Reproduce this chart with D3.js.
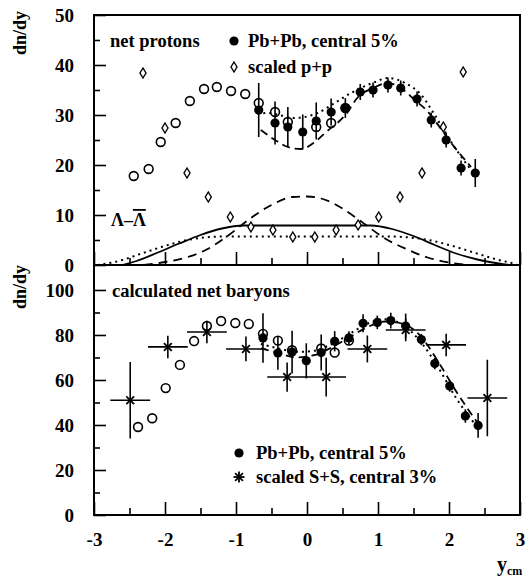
<!DOCTYPE html>
<html>
<head>
<meta charset="utf-8">
<script src="https://cdn.jsdelivr.net/npm/d3@7"></script>
<style>
body{margin:0;background:#fff;}
#canvas{width:530px;height:577px;}
text{font-family:"Liberation Serif","Times New Roman",serif;font-weight:bold;fill:#000;}
</style>
</head>
<body>
<div id="canvas" class="canvas"></div>
<script>
//Data
//top panel: net protons
var protonRap = [-0.68,-0.45,-0.27,-0.06,0.13,0.34,0.54,0.75,0.93,1.14,1.32,1.55,1.75,1.96,2.17,2.37];
var protonPbPb = [31,28.4,27.6,26.6,28.8,30.6,31.4,34.6,35,36,35.4,33.2,29,25,19.4,18.4];
var protonErr = [5.4,4.3,4,3.5,3.7,2.7,2,1.6,1.5,1.5,1.5,1.5,1.5,1.5,1.5,2.8];
var protonOpenRap = [-2.44,-2.23,-2.06,-1.85,-1.65,-1.45,-1.27,-1.07,-0.87,-0.68,-0.45,-0.27,0.13,0.34,0.54];
var protonOpen = [17.8,19.2,24.6,28.4,32.8,35.2,35.6,34.8,34.2,32.4,30.6,28.6,27.6,28.4,31.4];
var ppRap = [-2.31,-2.0,-1.69,-1.39,-1.08,-0.79,-0.48,-0.2,0.11,0.41,0.72,1.01,1.31,1.62,1.92,2.2];
var ppScaled = [38.4,27.4,18.4,13.6,9.6,7.6,7,5.6,5.6,7,8,9.6,13.6,18.4,27.6,38.6];
var protonDashed = [[-0.65,27],[-0.45,25],[-0.27,23.6],[-0.08,23.2],[0.11,24.6],[0.27,26.6],[0.54,30],[0.72,33.6],[0.93,35.4],[1.14,36.4],[1.3,35.6],[1.52,33],[1.68,31],[2.03,24.4],[2.31,19.6]];
var protonDotted = [[-0.7,30.2],[-0.55,30.4],[-0.17,29.4],[0.15,30.4],[0.39,32.4],[0.62,34.4],[0.96,36.6],[1.14,37.4],[1.38,36.4],[1.61,34],[1.8,30],[2.03,24.6],[2.31,19]];
var lambdaSolid = [[-2.6,0],[-2.4,0.8],[-2.1,2.5],[-1.8,4.3],[-1.5,6],[-1.2,7.3],[-0.9,7.9],[0.9,7.9],[1.2,7.2],[1.5,5.8],[1.8,4],[2.1,2.3],[2.4,1.1],[2.7,0.3],[2.85,0]];
var lambdaDashed = [[-2.3,0],[-2.0,0.6],[-1.7,1.5],[-1.4,3.2],[-1.1,6],[-0.8,9.3],[-0.5,12],[-0.2,13.6],[0,13.7],[0.2,13.3],[0.5,11.3],[0.8,8.3],[1.1,5.3],[1.4,3.2],[1.7,1.5],[2.0,0.5],[2.3,0]];
var lambdaDotted = [[-2.95,0],[-2.65,0.8],[-2.35,2.2],[-2.05,3.6],[-1.75,4.8],[-1.45,5.5],[-1.15,5.7],[1.15,5.7],[1.45,5.5],[1.75,4.9],[2.05,3.8],[2.35,2.5],[2.65,1.2],[2.95,0.2]];

//bottom panel: net baryons
var baryonRap = [-0.62,-0.41,-0.21,-0.01,0.2,0.39,0.59,0.79,0.99,1.18,1.39,1.61,1.8,2.01,2.23,2.41];
var baryonPbPb = [78.7,72,72.4,68.5,72.2,77.2,78.7,85.2,85.6,86.4,84,78,67.3,57.3,44,39.8];
var baryonErr = [11,7.5,9.5,7.8,8,4.5,3,4,3,3.5,5.5,2.5,2.5,2.5,3,5.5];
var baryonOpenRap = [-2.38,-2.18,-1.99,-1.79,-1.59,-1.41,-1.21,-1.01,-0.82,-0.62,-0.41,-0.21,0.2,0.39,0.59];
var baryonOpen = [39.1,43,56.4,66.7,77.3,84,86.2,85.3,84.9,80.5,77.5,73.2,74,72.2,77.5];
var ssRap = [-2.49,-1.96,-1.41,-0.86,-0.28,0.27,0.85,1.39,1.96,2.54];
var ssScaled = [51,74.7,81.3,73.8,61.3,61.3,73.8,82.2,75.6,52];
var ssErr = [17,5,5,5.5,6.5,8.6,6,5,5,17];
var ssBinHalf = 0.28;
var baryonDashed = [[-0.65,74],[-0.4,72],[-0.15,70],[0.1,71],[0.35,74.5],[0.6,79],[0.85,83.5],[1.1,86],[1.35,85],[1.6,79.5],[1.85,68],[2.1,55],[2.4,41]];
var baryonDotted = [[-0.65,76],[-0.4,74],[-0.15,72.5],[0.1,73],[0.35,76],[0.6,80.5],[0.85,85],[1.1,87],[1.35,84.5],[1.6,77],[1.85,65.5],[2.1,52],[2.4,39]];

//tick values
var xMajor = [-3,-2,-1,0,1,2,3], xMinor = [-2.5,-1.5,-0.5,0.5,1.5,2.5];
var topMajor = [0,10,20,30,40,50], topMinor = [5,15,25,35,45];
var botMajor = [0,20,40,60,80,100], botMinor = [10,30,50,70,90];

var outerWidth = 530, outerHeight = 577;
var left = 94, right = 520, top0 = 15, mid = 265, bottom = 515;

var svg = d3.select('.canvas')
    .append('svg')
    .attr('width',outerWidth)
    .attr('height',outerHeight);

var scaleX = d3.scaleLinear().domain([-3,3]).range([left,right]);
var scaleTop = d3.scaleLinear().domain([0,50]).range([mid,top0]);
var scaleBot = d3.scaleLinear().domain([0,111.1]).range([bottom,mid]);

function zip(xs,ys){ return xs.map(function(x,i){return [x,ys[i]];}); }

//axes, ticks pointing inside
function drawAxis(axis,tx,ty,size,labels){
    var g = svg.append('g')
        .attr('transform','translate('+tx+','+ty+')')
        .call(axis.tickSize(size).tickPadding(labels ? 20 : 0));
    g.select('.domain').remove();
    g.selectAll('line').attr('stroke','#000').attr('stroke-width',1.6);
    g.selectAll('text')
        .style('font-family','"Liberation Serif",serif')
        .style('font-weight','bold')
        .style('font-size','19px');
    if(!labels) g.selectAll('text').remove();
    return g;
}
drawAxis(d3.axisLeft(scaleTop).tickValues(topMajor),left,0,-12,true);
drawAxis(d3.axisLeft(scaleTop).tickValues(topMinor),left,0,-6,false);
drawAxis(d3.axisLeft(scaleBot).tickValues(botMajor),left,0,-12,true);
drawAxis(d3.axisLeft(scaleBot).tickValues(botMinor),left,0,-6,false);
drawAxis(d3.axisBottom(scaleX).tickValues(xMajor),0,mid,-13,false);
drawAxis(d3.axisBottom(scaleX).tickValues(xMinor),0,mid,-7,false);
var xg = drawAxis(d3.axisBottom(scaleX).tickValues(xMajor).tickFormat(d3.format('d')),0,bottom,-13,true);
xg.selectAll('text').attr('y',18).text(function(d){return d<0 ? '-'+(-d) : d;});
drawAxis(d3.axisBottom(scaleX).tickValues(xMinor),0,bottom,-7,false);

//frames
svg.append('rect').attr('x',left).attr('y',top0).attr('width',right-left).attr('height',mid-top0)
    .attr('fill','none').attr('stroke','#000').attr('stroke-width',2);
svg.append('rect').attr('x',left).attr('y',mid).attr('width',right-left).attr('height',bottom-mid)
    .attr('fill','none').attr('stroke','#000').attr('stroke-width',2);

//curves
function curve(data,scaleY,dash,width){
    var line = d3.line()
        .x(function(d){return scaleX(d[0]);})
        .y(function(d){return scaleY(d[1]);})
        .curve(d3.curveMonotoneX);
    svg.append('path').datum(data)
        .attr('d',line)
        .attr('fill','none')
        .attr('stroke','#000')
        .attr('stroke-width',width)
        .attr('stroke-dasharray',dash);
}
curve(lambdaSolid,scaleTop,null,1.8);
curve(lambdaDashed,scaleTop,'9,6',1.8);
curve(lambdaDotted,scaleTop,'2,4',2);
curve(protonDashed,scaleTop,'8,5',1.8);
curve(protonDotted,scaleTop,'2,4',2);
curve(baryonDashed,scaleBot,'8,5',1.8);
curve(baryonDotted,scaleBot,'2,4',2);

//error bars
function errBars(rap,val,err,scaleY){
    svg.append('g').selectAll('line')
        .data(zip(rap,val).map(function(d,i){return [d[0],d[1],err[i]];}))
        .enter().append('line')
        .attr('x1',function(d){return scaleX(d[0]);})
        .attr('x2',function(d){return scaleX(d[0]);})
        .attr('y1',function(d){return scaleY(d[1]-d[2]);})
        .attr('y2',function(d){return scaleY(d[1]+d[2]);})
        .attr('stroke','#000').attr('stroke-width',1.6);
}
errBars(protonRap,protonPbPb,protonErr,scaleTop);
errBars(baryonRap,baryonPbPb,baryonErr,scaleBot);
errBars(ssRap,ssScaled,ssErr,scaleBot);

//S+S horizontal bin bars
svg.append('g').selectAll('line')
    .data(zip(ssRap,ssScaled))
    .enter().append('line')
    .attr('x1',function(d){return scaleX(d[0]-ssBinHalf);})
    .attr('x2',function(d){return scaleX(d[0]+ssBinHalf);})
    .attr('y1',function(d){return scaleBot(d[1]);})
    .attr('y2',function(d){return scaleBot(d[1]);})
    .attr('stroke','#000').attr('stroke-width',1.6);

//markers
function filled(g,x,y){ g.append('circle').attr('cx',x).attr('cy',y).attr('r',4.6).attr('fill','#000'); }
function open(g,x,y){ g.append('circle').attr('cx',x).attr('cy',y).attr('r',4.4).attr('fill','none').attr('stroke','#000').attr('stroke-width',1.6); }
function diamond(g,x,y){ g.append('path').attr('transform','translate('+x+','+y+')').attr('d','M0,-5L3,0L0,5L-3,0Z').attr('fill','#fff').attr('stroke','#000').attr('stroke-width',1.4); }
function star(g,x,y,full){
    var s = g.append('g').attr('transform','translate('+x+','+y+')');
    var arms = full ? [0,45,90,135] : [45,135];
    arms.forEach(function(a){
        var r = 5.5, c = Math.cos(a*Math.PI/180)*r, sn = Math.sin(a*Math.PI/180)*r;
        s.append('line').attr('x1',-c).attr('y1',-sn).attr('x2',c).attr('y2',sn)
            .attr('stroke','#000').attr('stroke-width',1.8);
    });
}
function points(rap,val,scaleY,fn){
    var g = svg.append('g');
    zip(rap,val).forEach(function(d){ fn(g,scaleX(d[0]),scaleY(d[1])); });
}
points(ppRap,ppScaled,scaleTop,diamond);
points(protonPbPb.length ? protonRap : [],protonPbPb,scaleTop,filled);
points(protonOpenRap,protonOpen,scaleTop,open);
points(ssRap,ssScaled,scaleBot,function(g,x,y){star(g,x,y,false);});
points(baryonRap,baryonPbPb,scaleBot,filled);
points(baryonOpenRap,baryonOpen,scaleBot,open);

//labels and legends
function label(x,y,txt,size){
    return svg.append('text').attr('x',x).attr('y',y).style('font-size',(size||18.5)+'px').text(txt);
}
label(110,47,'net protons');
var leg = svg.append('g');
filled(leg,234,41);
label(248,47,'Pb+Pb, central 5%');
diamond(leg,234,67);
label(248,73,'scaled p+p');

var lam = svg.append('text').attr('x',111).attr('y',226).style('font-size','18px');
lam.append('tspan').text('Λ–');
lam.append('tspan').style('text-decoration','overline').text('Λ');

label(112,297,'calculated net baryons');
filled(leg,239,453);
label(256,459,'Pb+Pb, central 5%');
star(leg,239,477,true);
label(256,483,'scaled S+S, central 3%');

//axis titles
svg.append('text').attr('transform','translate(26,33) rotate(-90)')
    .attr('text-anchor','middle').style('font-size','18px').text('dn/dy');
svg.append('text').attr('transform','translate(26,287) rotate(-90)')
    .attr('text-anchor','middle').style('font-size','18px').text('dn/dy');
var yl = svg.append('text').attr('x',497).attr('y',571).style('font-size','20px');
yl.append('tspan').text('y');
yl.append('tspan').attr('dy',4).style('font-size','12px').text('cm');
</script>
</body>
</html>
